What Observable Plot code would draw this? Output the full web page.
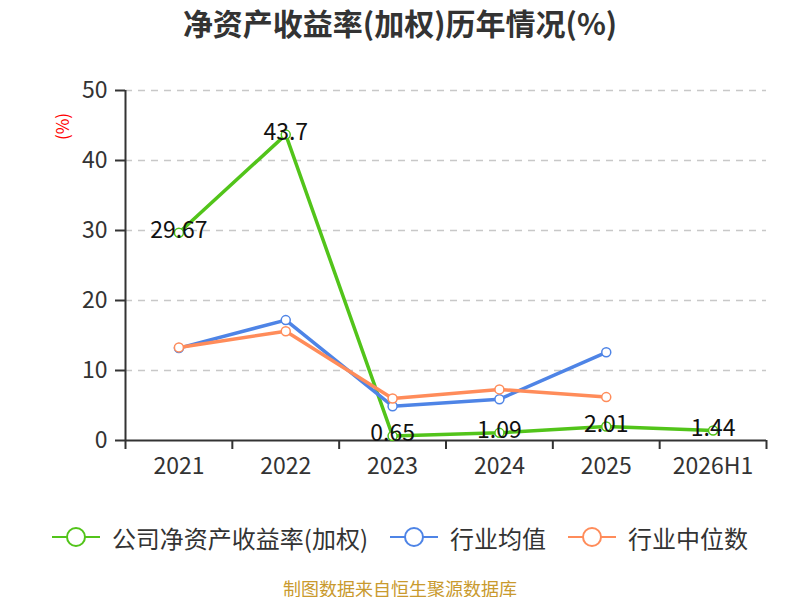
<!DOCTYPE html>
<html><head><meta charset="utf-8">
<script src="https://cdn.jsdelivr.net/npm/d3@7"></script>
<script src="https://cdn.jsdelivr.net/npm/@observablehq/plot@0.6"></script>
<style>
body{margin:0;background:#fff;font-family:"Noto Sans CJK SC","Noto Sans",sans-serif;width:800px;}
#title{height:44px;line-height:44px;text-align:center;font-size:30px;font-weight:bold;color:#333;}
#legend{margin-top:38px;height:30px;display:flex;justify-content:center;align-items:center;font-size:24px;color:#333;}
.item{display:flex;align-items:center;margin:0 11px;}
.item svg{margin-right:12px;}
#caption{margin-top:27px;height:18px;line-height:18px;text-align:center;font-size:18px;color:#c99a2e;}
</style></head>
<body>
<div id="title">净资产收益率(加权)历年情况(%)</div>
<div id="chart"></div>
<div id="legend"></div>
<div id="caption">制图数据来自恒生聚源数据库</div>
<script>
const years = ["2021","2022","2023","2024","2025","2026H1"];
const company = [29.67, 43.7, 0.65, 1.09, 2.01, 1.44];
const industryMean = [13.2, 17.2, 4.9, 5.9, 12.6];
const industryMedian = [13.3, 15.6, 6.0, 7.3, 6.2];
const yTicks = [0, 10, 20, 30, 40, 50];
const seriesNames = ["公司净资产收益率(加权)", "行业均值", "行业中位数"];
const colors = ["#52c41a", "#4e84e6", "#ff8c5a"];

const toRows = arr => arr.map((v, i) => ({i, v}));
const cRows = toRows(company), mRows = toRows(industryMean), dRows = toRows(industryMedian);
const idx = years.map((_, i) => i);
const bounds = [...idx.map(i => i - 0.5), years.length - 0.5];

const chart = Plot.plot({
  width: 800, height: 440,
  marginLeft: 125, marginRight: 34, marginTop: 46, marginBottom: 44,
  style: {fontFamily: '"Noto Sans CJK SC","Noto Sans",sans-serif', color: "#333", background: "#fff"},
  x: {type: "linear", domain: [-0.5, years.length - 0.5], axis: null},
  y: {domain: [0, 50], axis: null},
  marks: [
    Plot.gridY(yTicks.filter(t => t > 0), {stroke: "#c8c8c8", strokeOpacity: 1, strokeWidth: 1.5, strokeDasharray: "7,6"}),
    Plot.axisY({ticks: yTicks, tickSize: 10, tickPadding: 8, fontSize: 23, strokeWidth: 2, label: null, tickFormat: d => String(d)}),
    Plot.ruleX([-0.5], {stroke: "#333", strokeWidth: 2}),
    Plot.ruleY([0], {stroke: "#333", strokeWidth: 2}),
    Plot.axisX({ticks: bounds, tickSize: 9, strokeWidth: 2, label: null, tickFormat: () => ""}),
    Plot.axisX({ticks: idx, tickSize: 0, tickPadding: 17, fontSize: 23, label: null, tickFormat: i => years[i]}),
    Plot.line(cRows, {x: "i", y: "v", stroke: colors[0], strokeWidth: 3.5}),
    Plot.dot(cRows, {x: "i", y: "v", r: 4.5, fill: "#fff", stroke: colors[0], strokeWidth: 1.5}),
    Plot.line(mRows, {x: "i", y: "v", stroke: colors[1], strokeWidth: 3.5}),
    Plot.dot(mRows, {x: "i", y: "v", r: 4.5, fill: "#fff", stroke: colors[1], strokeWidth: 1.5}),
    Plot.line(dRows, {x: "i", y: "v", stroke: colors[2], strokeWidth: 3.5}),
    Plot.dot(dRows, {x: "i", y: "v", r: 4.5, fill: "#fff", stroke: colors[2], strokeWidth: 1.5}),
    Plot.text(cRows, {x: "i", y: "v", text: d => String(d.v), fontSize: 23, fill: "#111", dy: -2}),
    Plot.text(["(%)"], {frameAnchor: "top-left", textAnchor: "middle", lineAnchor: "middle", dx: -62, dy: 36, rotate: -90, fill: "red", fontSize: 17})
  ]
});
document.getElementById("chart").appendChild(chart);

const legend = document.getElementById("legend");
seriesNames.forEach((name, k) => {
  const item = document.createElement("div");
  item.className = "item";
  item.innerHTML = `<svg width="48" height="24"><line x1="0" y1="12" x2="48" y2="12" stroke="${colors[k]}" stroke-width="2"/><circle cx="24" cy="12" r="9" fill="#fff" stroke="${colors[k]}" stroke-width="2"/></svg><span>${name}</span>`;
  legend.appendChild(item);
});
</script>
</body></html>
